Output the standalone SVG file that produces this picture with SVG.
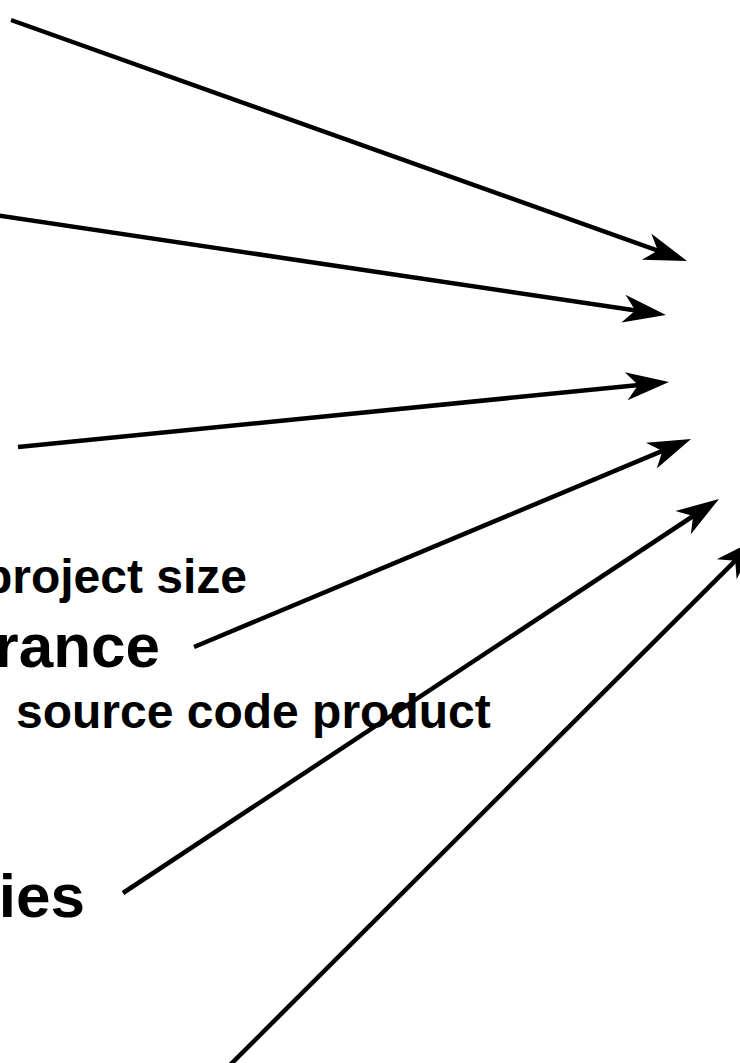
<svg xmlns="http://www.w3.org/2000/svg" width="740" height="1063" viewBox="0 0 740 1063">
  <style>
    .lbl { font-family: "Liberation Sans", Arial, sans-serif; font-weight: bold; fill: #000; }
    .big { font-size: 62px; }
    .small { font-size: 48px; }
    .edge { stroke: #000; stroke-width: 4.5; fill: none; marker-end: url(#head); }
  </style>
  <defs>
    <!-- notched arrowhead; tip sits 20 units past the line end -->
    <marker id="head" markerUnits="userSpaceOnUse" markerWidth="44" markerHeight="32" refX="23" refY="16" orient="auto" overflow="visible">
      <path d="M43,16 L0,2 L12,16 L0,30 Z" fill="#000"/>
    </marker>
  </defs>
  <rect width="740" height="1063" fill="#fff"/>

  <g id="node-project-size">
    <text class="lbl small" x="247" y="593" text-anchor="end">project size</text>
  </g>
  <g id="node-rance">
    <text class="lbl big" x="160" y="667" text-anchor="end">rance</text>
  </g>
  <g id="node-source-code-product">
    <text class="lbl small" x="16" y="728">source code product</text>
  </g>
  <g id="node-ies">
    <text class="lbl big" x="85" y="917" text-anchor="end">ies</text>
  </g>

  <g id="connectors">
    <line class="edge" x1="11" y1="20" x2="668.2" y2="254.3"/>
    <line class="edge" x1="-5" y1="215" x2="646.2" y2="312.1"/>
    <line class="edge" x1="18" y1="447" x2="649.1" y2="384"/>
    <line class="edge" x1="194" y1="647" x2="672.6" y2="446.7"/>
    <line class="edge" x1="123" y1="893" x2="702.3" y2="510"/>
    <line class="edge" x1="220" y1="1075" x2="743" y2="553"/>
  </g>
</svg>
